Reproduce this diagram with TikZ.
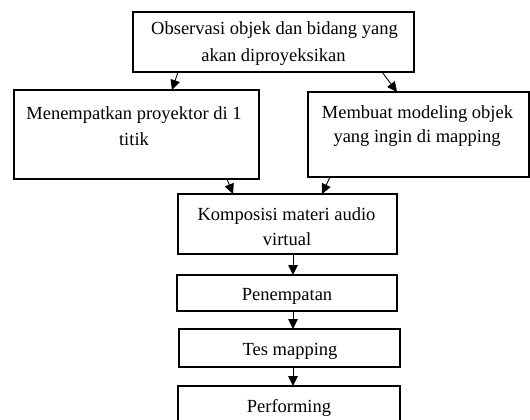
\documentclass[tikz,border=0pt]{standalone}
\usepackage{fontspec}
\setmainfont{Liberation Serif}
\usetikzlibrary{arrows.meta}
\begin{document}
\begin{tikzpicture}[x=1pt,y=-1pt,
  box/.style={draw,line width=1.8pt,rectangle,inner sep=0pt,outer sep=0pt},
  txt/.style={anchor=base,inner sep=0pt,font=\fontsize{18.5}{26}\selectfont},
  arr/.style={line width=0.9pt,-{Triangle[length=10pt,width=9.5pt]}}]
\clip (0,0) rectangle (530,420);
\fill[white] (0,0) rectangle (530,420);
% boxes
\node[box,minimum width=281pt,minimum height=60pt] (top) at (273.5,42) {};
\node[box,minimum width=245pt,minimum height=89pt] (left) at (136.5,134.5) {};
\node[box,minimum width=221pt,minimum height=85pt] (right) at (418.5,134.5) {};
\node[box,minimum width=219pt,minimum height=60pt] (komp) at (287.5,224) {};
\node[box,minimum width=220pt,minimum height=36pt] (pen) at (287,293) {};
\node[box,minimum width=221pt,minimum height=38pt] (tes) at (289.5,348) {};
\node[box,minimum width=222pt,minimum height=54pt] (perf) at (289,413) {};
% texts
\node[txt] (ta1) at (274.5,35) {Observasi objek dan bidang yang};
\begin{scope}
\clip (140,40) rectangle (410,69);
\node[txt] (ta2) at (273.5,62) {akan diproyeksikan};
\end{scope}
\node[txt] (tb1) at (134,119) {Menempatkan proyektor di 1};
\node[txt] (tb2) at (134,145) {titik};
\node[txt] (tc1) at (417.5,118) {Membuat modeling objek};
\node[txt] (tc2) at (417,142) {yang ingin di mapping};
\node[txt] (td1) at (286.5,220) {Komposisi materi audio};
\node[txt] (td2) at (287,245) {virtual};
\begin{scope}
\clip (180,278) rectangle (395,303);
\node[txt] (te) at (287,300) {Penempatan};
\end{scope}
\begin{scope}
\clip (182,332) rectangle (397,358);
\node[txt] (tf) at (290,355) {Tes mapping};
\end{scope}
\node[txt] (tg) at (289,412) {Performing};
% connectors
\coordinate (axis) at (293,0);
\draw[arr] ([xshift=-95.5pt]top.south) -- ([xshift=35.5pt]left.north);
\draw[arr] ([xshift=108.5pt]top.south) -- ([xshift=-21.5pt]right.north);
\draw[arr] ([xshift=90.5pt]left.south) -- ([xshift=-54.5pt]komp.north);
\draw[arr] ([xshift=-88.5pt]right.south) -- ([xshift=34.5pt]komp.north);
\draw[arr] (komp.south -| axis) -- (pen.north -| axis);
\draw[arr] (pen.south -| axis) -- (tes.north -| axis);
\draw[arr] (tes.south -| axis) -- (perf.north -| axis);
\end{tikzpicture}
\end{document}
